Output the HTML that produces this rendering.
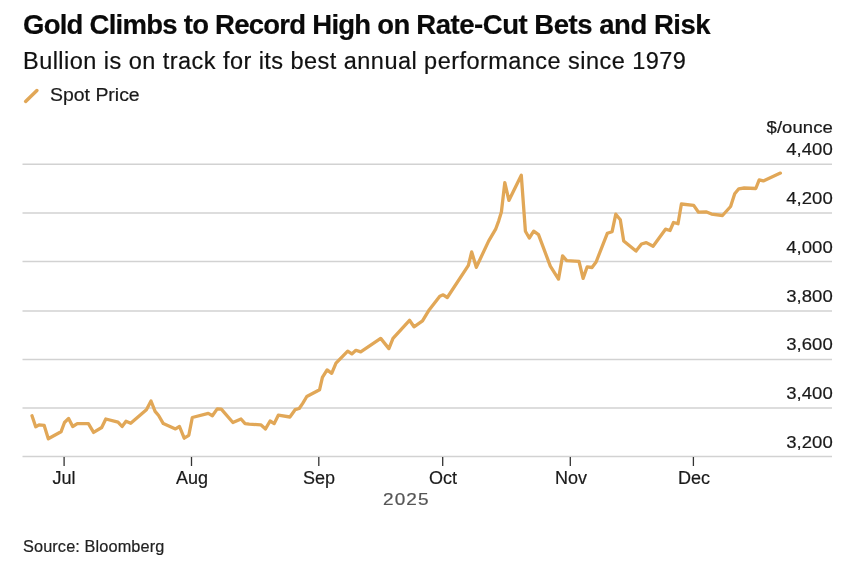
<!DOCTYPE html>
<html><head><meta charset="utf-8"><style>
html,body{margin:0;padding:0;background:#fff;}
body{width:860px;height:585px;position:relative;overflow:hidden;font-family:"Liberation Sans",sans-serif;color:#000;}
.t{position:absolute;white-space:nowrap;line-height:1;will-change:transform;-webkit-text-stroke:0.2px currentColor;}
#title{left:23px;top:11px;font-size:27.5px;font-weight:bold;letter-spacing:-0.62px;color:#0a0a0a;}
#sub{left:23px;top:50px;font-size:23.5px;letter-spacing:0.46px;color:#111;}
#leg{left:50px;top:85.5px;font-size:18px;letter-spacing:0;color:#1a1a1a;transform:scaleX(1.08);transform-origin:0 0;}
.yl{right:27px;font-size:17px;letter-spacing:0.05px;color:#1a1a1a;transform:scaleX(1.09);transform-origin:100% 0;}
.xl{font-size:18px;color:#1a1a1a;letter-spacing:0;margin-left:0.4px;}
#yr{left:382.5px;top:491px;font-size:16.5px;color:#555;letter-spacing:0.95px;transform:scaleX(1.15);transform-origin:0 0;}
#src{left:23px;top:538px;font-size:16.3px;color:#222;letter-spacing:0.12px;}
svg{position:absolute;left:0;top:0;}
</style></head><body>
<div class="t" id="title"><span style="letter-spacing:-0.74px">Gold Climbs to Record High on </span><span style="letter-spacing:-0.47px">Rate-Cut Bets and Risk</span></div>
<div class="t" id="sub">Bullion is on track for its best annual performance since 1979</div>
<div class="t" id="leg">Spot Price</div>
<div class="t yl" style="top:118.5px">$/ounce</div>
<div class="t yl" style="top:141.4px">4,400</div>
<div class="t yl" style="top:190.1px">4,200</div>
<div class="t yl" style="top:238.8px">4,000</div>
<div class="t yl" style="top:287.5px">3,800</div>
<div class="t yl" style="top:336.2px">3,600</div>
<div class="t yl" style="top:384.9px">3,400</div>
<div class="t yl" style="top:433.6px">3,200</div>
<div class="t xl" style="left:64.1px;top:469px;transform:translateX(-50%)">Jul</div>
<div class="t xl" style="left:191.5px;top:469px;transform:translateX(-50%)">Aug</div>
<div class="t xl" style="left:318.8px;top:469px;transform:translateX(-50%)">Sep</div>
<div class="t xl" style="left:442.7px;top:469px;transform:translateX(-50%)">Oct</div>
<div class="t xl" style="left:570.3px;top:469px;transform:translateX(-50%)">Nov</div>
<div class="t xl" style="left:693.4px;top:469px;transform:translateX(-50%)">Dec</div>
<div class="t" id="yr">2025</div>
<div class="t" id="src">Source: Bloomberg</div>
<svg width="860" height="585" viewBox="0 0 860 585">
<line x1="25.6" y1="101.4" x2="36.9" y2="90.5" stroke="#e1a757" stroke-width="3.5" stroke-linecap="round"/>
<line x1="22.5" y1="164.2" x2="832" y2="164.2" stroke="#d2d2d2" stroke-width="1.5"/>
<line x1="22.5" y1="212.9" x2="832" y2="212.9" stroke="#d2d2d2" stroke-width="1.5"/>
<line x1="22.5" y1="261.4" x2="832" y2="261.4" stroke="#d2d2d2" stroke-width="1.5"/>
<line x1="22.5" y1="310.9" x2="832" y2="310.9" stroke="#d2d2d2" stroke-width="1.5"/>
<line x1="22.5" y1="359.4" x2="832" y2="359.4" stroke="#d2d2d2" stroke-width="1.5"/>
<line x1="22.5" y1="407.9" x2="832" y2="407.9" stroke="#d2d2d2" stroke-width="1.5"/>
<line x1="22.5" y1="456.5" x2="832" y2="456.5" stroke="#d2d2d2" stroke-width="1.5"/>
<line x1="64.1" y1="457" x2="64.1" y2="466" stroke="#333" stroke-width="1.3"/>
<line x1="191.5" y1="457" x2="191.5" y2="466" stroke="#333" stroke-width="1.3"/>
<line x1="318.8" y1="457" x2="318.8" y2="466" stroke="#333" stroke-width="1.3"/>
<line x1="442.7" y1="457" x2="442.7" y2="466" stroke="#333" stroke-width="1.3"/>
<line x1="570.3" y1="457" x2="570.3" y2="466" stroke="#333" stroke-width="1.3"/>
<line x1="693.4" y1="457" x2="693.4" y2="466" stroke="#333" stroke-width="1.3"/>
<path d="M32 415.8 L35.7 426.8 L39 424.8 L44.2 425.4 L48.3 438.8 L61 431.8 L64.5 422.5 L68.6 418.4 L72.7 426.5 L77.3 423.6 L88.4 423.6 L93.6 432.4 L101.7 427.5 L105.8 419.0 L118 422.1 L122.1 426.5 L126 421.3 L130.7 423.3 L146.4 409.7 L151 401.0 L155.1 411.4 L158.6 415.5 L163.3 423.6 L175.5 428.9 L179.5 426.5 L184.2 438.2 L188.8 435.3 L192.3 417.5 L208.3 413.4 L212.4 415.7 L217.2 408.9 L221.3 409.1 L232.9 422.5 L241 419.0 L245.1 423.6 L249.2 424.2 L260.8 424.8 L265.5 428.9 L270.1 421.0 L274.2 423.6 L278.3 415.2 L289.9 417.0 L295.1 409.7 L299.2 408.5 L302.7 403.3 L306.8 396.5 L319.6 389.7 L322.4 377.4 L327.1 369.9 L331.7 373.3 L336 363.1 L347.7 351.2 L351.8 353.9 L355.9 350.3 L360.7 351.9 L380.7 338.4 L388.9 348.6 L393 338.4 L409.5 320.3 L414 326.8 L422.5 320.9 L429.3 309.7 L439.8 296.2 L443.2 294.8 L447.3 297.5 L468.4 265.4 L471.7 251.9 L476.3 267.3 L488.6 241.1 L495.8 228.8 L498.8 220.6 L501.4 212.0 L504.8 182.6 L508.9 200.4 L521.3 175.3 L525.4 231.2 L529.3 238.0 L533.7 231.2 L538.5 234.6 L550.3 266.1 L558.5 279.1 L562.6 255.9 L566.7 260.6 L579 261.3 L583.1 278.4 L587.2 266.8 L592 267.5 L596.1 262.0 L607.3 233.3 L612.1 231.7 L615.8 214.2 L620.3 219.7 L623.7 240.9 L636 251.1 L641.5 244.0 L646.3 242.6 L653.1 246.3 L665.5 229.2 L670 230.5 L673.5 222.5 L678 223.7 L681.4 204.0 L693.7 205.4 L698.5 212.2 L706 211.8 L711.5 214.1 L722.5 215.5 L730.6 206.5 L734.7 193.8 L738.8 188.8 L744.2 188.0 L755.8 188.5 L759.2 179.9 L763.3 180.9 L780.4 173.1" fill="none" stroke="#e1a757" stroke-width="3.3" stroke-linejoin="round" stroke-linecap="round"/>
</svg>
</body></html>
